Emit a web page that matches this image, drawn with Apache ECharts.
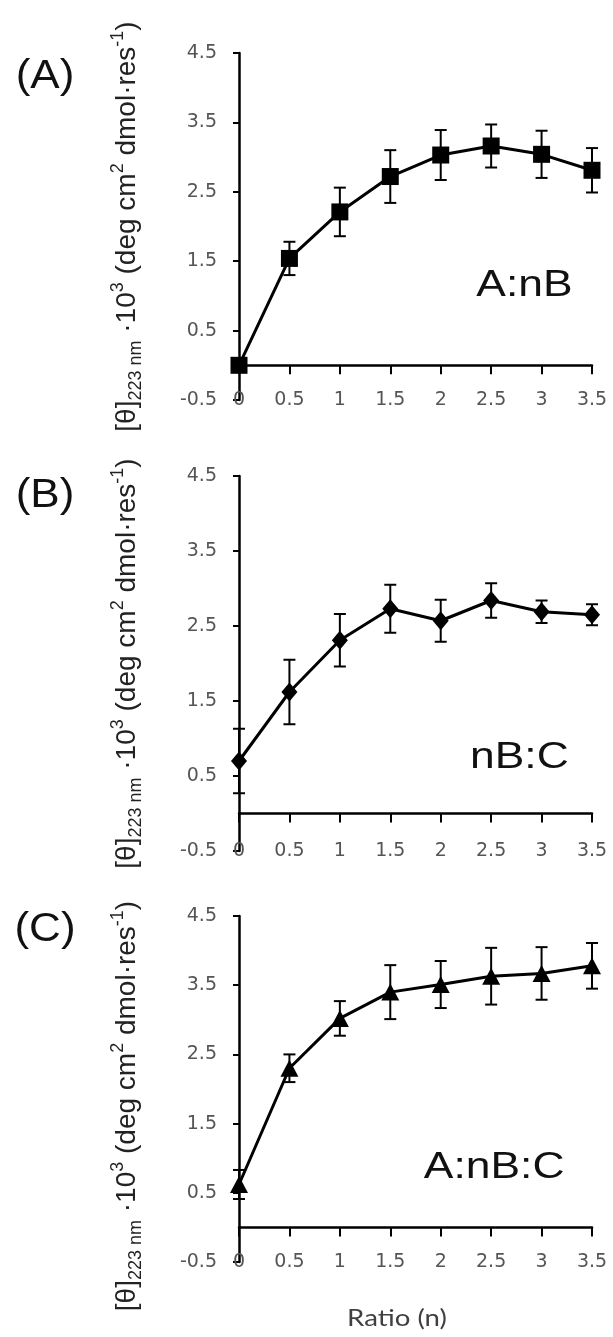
<!DOCTYPE html>
<html>
<head>
<meta charset="utf-8">
<script src="https://cdn.jsdelivr.net/npm/echarts@6/dist/echarts.min.js"></script>
<style>
html,body{margin:0;padding:0;background:#fff;}
#chart{width:613px;height:1337px;}
</style>
</head>
<body>
<div id="chart"></div>
<script>
// ---- data ----
const ratios = [0, 0.5, 1, 1.5, 2, 2.5, 3, 3.5];
const meanA = [0.00, 1.54, 2.21, 2.72, 3.03, 3.16, 3.04, 2.81];
const errA  = [0.00, 0.24, 0.35, 0.38, 0.36, 0.31, 0.34, 0.32];
const meanB = [0.70, 1.62, 2.31, 2.73, 2.57, 2.84, 2.69, 2.65];
const errB  = [0.43, 0.43, 0.35, 0.32, 0.28, 0.23, 0.15, 0.14];
const meanC = [0.62, 2.30, 3.02, 3.40, 3.51, 3.63, 3.67, 3.78];
const errC  = [0.21, 0.20, 0.25, 0.39, 0.34, 0.41, 0.38, 0.33];
const panelLetters = ['(A)', '(B)', '(C)'];
const panelNames = ['A:nB', 'nB:C', 'A:nB:C'];
const xTitle = 'Ratio (n)';

const chart = echarts.init(document.getElementById('chart'));

const panels = [
  {mean: meanA, err: errA, top: 53, height: 347, sym: 'rect', size: 17, note: [2.83, 1.14], letterY: 77, namePad: [0, 0, 0, 0]},
  {mean: meanB, err: errB, top: 476, height: 375, sym: 'diamond', size: [16, 19], note: [2.78, 0.74], letterY: 496, namePad: [0, 0, 0, 0]},
  {mean: meanC, err: errC, top: 916, height: 346, sym: 'triangle', size: [18, 17], note: [2.53, 0.86], letterY: 930, namePad: [0, 34, 0, 0]}
];

const tickFont = {fontFamily: '"DejaVu Sans", sans-serif', fontSize: 19, color: '#555'};
const nameFont = '"Liberation Sans", Arial, sans-serif';

const grids = [], xAxes = [], yAxes = [], series = [];
panels.forEach((p, i) => {
  grids.push({left: 239, width: 353, top: p.top, height: p.height});
  // axis line drawn at y = 0 with ticks
  xAxes.push({
    type: 'value', gridIndex: i, min: 0, max: 3.5, interval: 0.5,
    axisLine: {show: true, onZero: true, lineStyle: {color: '#000', width: 2.5}},
    axisTick: {show: true, inside: false, length: 9, lineStyle: {color: '#000', width: 2}},
    axisLabel: {show: false}, splitLine: {show: false}
  });
  // label-only axis at the bottom (-0.5)
  xAxes.push({
    type: 'value', gridIndex: i, min: 0, max: 3.5, interval: 0.5, position: 'bottom',
    axisLine: {show: false, onZero: false}, axisTick: {show: false},
    axisLabel: Object.assign({margin: 0, verticalAlign: 'middle'}, tickFont),
    splitLine: {show: false}
  });
  yAxes.push({
    type: 'value', gridIndex: i, min: -0.5, max: 4.5, interval: 1,
    axisLine: {show: true, onZero: false, lineStyle: {color: '#000', width: 2.5}},
    axisTick: {show: true, inside: false, length: 6, lineStyle: {color: '#000', width: 2}},
    axisLabel: Object.assign({margin: 22}, tickFont),
    splitLine: {show: false},
    name: '{t|[θ]}{sub|223 nm}{t| ·10}{sup|3}{t| (deg cm}{sup|2}{t| dmol·res}{sup|-1}{t|)}',
    nameLocation: 'middle', nameRotate: 90, nameGap: 94,
    nameTextStyle: {
      padding: p.namePad,
      rich: {
        t: {fontFamily: nameFont, fontSize: 28, color: '#222', lineHeight: 36},
        sub: {fontFamily: nameFont, fontSize: 18, color: '#222', lineHeight: 18, verticalAlign: 'bottom'},
        sup: {fontFamily: nameFont, fontSize: 18, color: '#222', lineHeight: 18, verticalAlign: 'top'}
      }
    }
  });
  series.push({
    type: 'custom', xAxisIndex: 2 * i, yAxisIndex: i, clip: false, z: 4,
    data: ratios.map((x, k) => [x, p.mean[k], p.err[k]]),
    renderItem: function (params, api) {
      const x = api.value(0), m = api.value(1), e = api.value(2);
      if (!e) return {type: 'group', children: []};
      const a = api.coord([x, m + e]);
      const b = api.coord([x, m - e]);
      const hw = 6;
      const st = {stroke: '#000', lineWidth: 2};
      return {type: 'group', children: [
        {type: 'line', shape: {x1: a[0], y1: a[1], x2: b[0], y2: b[1]}, style: st},
        {type: 'line', shape: {x1: a[0] - hw, y1: a[1], x2: a[0] + hw, y2: a[1]}, style: st},
        {type: 'line', shape: {x1: b[0] - hw, y1: b[1], x2: b[0] + hw, y2: b[1]}, style: st}
      ]};
    }
  });
  series.push({
    type: 'line', xAxisIndex: 2 * i, yAxisIndex: i, clip: false, z: 5,
    data: ratios.map((x, k) => [x, p.mean[k]]),
    symbol: p.sym, symbolSize: p.size, showSymbol: true,
    lineStyle: {color: '#000', width: 3},
    itemStyle: {color: '#000'},
    emphasis: {disabled: true},
    animation: false
  });
});

chart.setOption({
  animation: false,
  grid: grids, xAxis: xAxes, yAxis: yAxes, series: series
});

// annotations placed through the library's coordinate conversion
const graphics = [];
panels.forEach((p, i) => {
  const pt = chart.convertToPixel({gridIndex: i}, p.note);
  graphics.push({
    type: 'text', x: pt[0], y: pt[1], scaleX: 1.2,
    style: {text: panelNames[i], font: '37px ' + nameFont, fill: '#111', align: 'center', verticalAlign: 'middle'}
  });
  graphics.push({
    type: 'text', x: 45, y: p.letterY, scaleX: 1.1,
    style: {text: panelLetters[i], font: '40px ' + nameFont, fill: '#111', align: 'center', verticalAlign: 'middle'}
  });
});
graphics.push({
  type: 'text', x: 397, y: 1318, scaleX: 1.15,
  style: {text: xTitle, font: '24px Lato, "DejaVu Sans", sans-serif', fill: '#404040', align: 'center', verticalAlign: 'middle'}
});
chart.setOption({graphic: graphics});
</script>
</body>
</html>
